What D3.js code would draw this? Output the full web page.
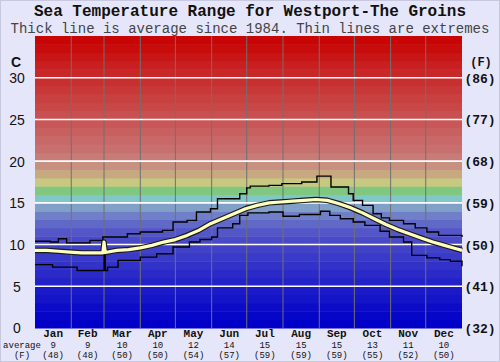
<!DOCTYPE html>
<html><head><meta charset="utf-8">
<script src="https://cdn.jsdelivr.net/npm/d3@7/dist/d3.min.js"></script>
<style>
html,body{margin:0;padding:0;background:#e6e6fa;}
svg{display:block;}
</style></head>
<body>
<svg id="chart" width="500" height="362"></svg>
<script>
// ---- data ----
const months = ["Jan","Feb","Mar","Apr","May","Jun","Jul","Aug","Sep","Oct","Nov","Dec"];
const monthDays = [31,28,31,30,31,30,31,31,30,31,30,31];
const avgC = [9,9,10,10,12,14,15,15,15,13,11,10];
const avgF = [48,48,50,50,54,57,59,59,59,55,52,50];
const cTicks = [0,5,10,15,20,25,30];
const fTicks = ["(32)","(41)","(50)","(59)","(68)","(77)","(86)"];

const avgDays  = [0,10,20,30,40,50,58,59,60,70,80,90,100,110,120,130,140,150,160,170,180,190,200,210,220,230,240,250,260,270,280,290,300,310,320,330,340,350,360,365];
const avgTemps = [9.3,9.3,9.2,9.1,9.0,9.0,9.0,10.3,9.05,9.3,9.4,9.6,9.9,10.3,10.6,11.1,11.7,12.5,13.1,13.7,14.3,14.7,15.0,15.1,15.2,15.3,15.4,15.3,14.9,14.4,13.8,13.1,12.4,11.8,11.3,10.8,10.3,9.9,9.5,9.3];

const maxDays  = [0,13,20,27,47,58,79,90,109,118,130,138,150,156,175,181,184,200,211,228,241,253,268,272,280,289,296,303,315,325,335,345,365];
const maxTemps = [10.4,10.3,10.7,10.2,10.5,10.9,11.3,11.5,11.7,12.7,12.9,13.9,14.3,15.5,16.1,16.8,17.0,17.1,17.3,17.5,18.2,16.9,16.1,15.3,14.7,13.7,13.2,12.9,12.5,12.0,11.5,11.1,10.9];

const minDays  = [0,15,36,59,60,62,71,90,104,118,132,141,151,156,169,175,182,200,212,226,244,252,261,272,282,295,303,315,322,335,346,355,365];
const minTemps = [7.6,7.3,6.9,10.2,6.9,7.3,8.1,8.5,8.9,9.7,10.3,10.6,10.9,12.0,12.5,13.5,13.8,13.9,13.4,13.6,14.0,13.5,13.1,12.7,12.3,11.6,10.9,10.3,8.7,8.4,8.2,8.0,7.4];

// background band colours, one per degree C (0..34)
const bandColors = ["#0000c8","#0606c8","#0c0cc8","#1414c8","#1a1ac8","#2222c8","#2a2ac8","#3232c8","#3a3ac8","#4242c8",
  "#4a4ac8","#5456c8","#6068c8","#7080c8","#80a0c8","#80c8c8","#80c880","#c8c880","#c8a880","#c89080",
  "#c87c78","#c87070","#c86868","#c86060","#c85858","#c85050","#c84848","#c84040","#c83838","#c83030",
  "#c82828","#c82020","#c81616","#c80c0c","#c80404"];

// ---- layout ----
const svg = d3.select("#chart");
const L = 35, R = 462, T = 36, B = 328;
const x = d3.scaleLinear().domain([0,365]).range([L,R]);
const y = d3.scaleLinear().domain([0,35]).range([B,T]);

// frame
svg.append("rect").attr("x",0.5).attr("y",0.5).attr("width",499).attr("height",361)
  .attr("fill","#e6e6fa").attr("stroke","#c8c8e0");

// bands
svg.append("g").selectAll("rect").data(bandColors).join("rect")
  .attr("x",L).attr("width",R-L)
  .attr("y",(d,i)=>y(i+1)).attr("height",(d,i)=>y(i)-y(i+1)+0.5)
  .attr("fill",d=>d);

// month boundaries
const bounds = Array.from(d3.cumsum(monthDays)).slice(0,11);
svg.append("g").selectAll("line").data(bounds).join("line")
  .attr("x1",d=>x(d)).attr("x2",d=>x(d)).attr("y1",T).attr("y2",B)
  .attr("stroke","#707070").attr("stroke-width",1);

// white grid lines
svg.append("g").selectAll("line").data(cTicks.filter(d=>d>0)).join("line")
  .attr("x1",L).attr("x2",R).attr("y1",d=>y(d)).attr("y2",d=>y(d))
  .attr("stroke","#ffffff").attr("stroke-width",1.6);

// curves
const stepLine = d3.line().x(d=>x(d[0])).y(d=>y(d[1])).curve(d3.curveStepAfter);
const avgLine = d3.line().x(d=>x(d[0])).y(d=>y(d[1])).curve(d3.curveLinear);
const maxPts = d3.zip(maxDays,maxTemps);
const minPts = d3.zip(minDays,minTemps);
const avgPts = d3.zip(avgDays,avgTemps);
svg.append("path").attr("d",stepLine(maxPts)).attr("fill","none").attr("stroke","#000").attr("stroke-width",1.4);
svg.append("path").attr("d",stepLine(minPts)).attr("fill","none").attr("stroke","#000").attr("stroke-width",1.4);
svg.append("path").attr("d",avgLine(avgPts)).attr("fill","none").attr("stroke","#1a1a1a").attr("stroke-width",5.5).attr("stroke-linejoin","round");
svg.append("path").attr("d",avgLine(avgPts)).attr("fill","none").attr("stroke","#ffffc0").attr("stroke-width",3.2).attr("stroke-linejoin","round");

// titles
svg.append("text").attr("x",250).attr("y",16).attr("text-anchor","middle")
  .attr("font-family","Liberation Mono, monospace").attr("font-weight","bold").attr("font-size",16).attr("fill","#111")
  .text("Sea Temperature Range for Westport-The Groins");
svg.append("text").attr("x",250).attr("y",32.5).attr("text-anchor","middle")
  .attr("font-family","Liberation Mono, monospace").attr("font-size",14).attr("fill","#444")
  .text("Thick line is average since 1984. Thin lines are extremes");

// left axis
const yAxisL = d3.axisLeft(y).tickValues(cTicks).tickSize(0).tickPadding(0);
const gl = svg.append("g").attr("transform","translate(17,0)").call(yAxisL);
gl.select(".domain").remove();
gl.selectAll("text").attr("text-anchor","middle").attr("dy","0.35em")
  .attr("font-family","Liberation Sans, Arial, sans-serif").attr("font-size",14).attr("fill","#111");
svg.append("text").attr("x",16).attr("y",62).attr("dy","0.35em").attr("text-anchor","middle")
  .attr("font-family","Liberation Sans, Arial, sans-serif").attr("font-size",14).attr("font-weight","bold").attr("fill","#111").text("C");

// right axis
const yAxisR = d3.axisRight(y).tickValues(cTicks).tickFormat((d,i)=>fTicks[i]).tickSize(0).tickPadding(0);
const gr = svg.append("g").attr("transform","translate(480,0)").call(yAxisR);
gr.select(".domain").remove();
gr.selectAll("text").attr("text-anchor","middle").attr("dy","0.35em")
  .attr("font-family","Liberation Mono, monospace").attr("font-weight","bold").attr("font-size",13).attr("fill","#111");
svg.append("text").attr("x",481).attr("y",62).attr("dy","0.35em").attr("text-anchor","middle")
  .attr("font-family","Liberation Mono, monospace").attr("font-weight","bold").attr("font-size",12).attr("fill","#111").text("(F)");

// bottom labels
const starts = [0].concat(bounds);
const mids = starts.map((s,i)=>s+monthDays[i]/2);
const gb = svg.append("g").attr("font-family","Liberation Mono, monospace").attr("fill","#111").attr("text-anchor","middle");
gb.selectAll("text.m").data(months).join("text").attr("class","m")
  .attr("x",(d,i)=>x(mids[i])).attr("y",336.5).attr("font-weight","bold").attr("font-size",11).text(d=>d);
gb.selectAll("text.c").data(avgC).join("text").attr("class","c")
  .attr("x",(d,i)=>x(mids[i])).attr("y",347.5).attr("font-size",9).text(d=>d);
gb.selectAll("text.f").data(avgF).join("text").attr("class","f")
  .attr("x",(d,i)=>x(mids[i])).attr("y",357.5).attr("font-size",9).text(d=>"("+d+")");
gb.append("text").attr("x",22).attr("y",347.5).attr("font-size",9).text("average");
gb.append("text").attr("x",22).attr("y",357.5).attr("font-size",9).text("(F)");
</script>
</body></html>
